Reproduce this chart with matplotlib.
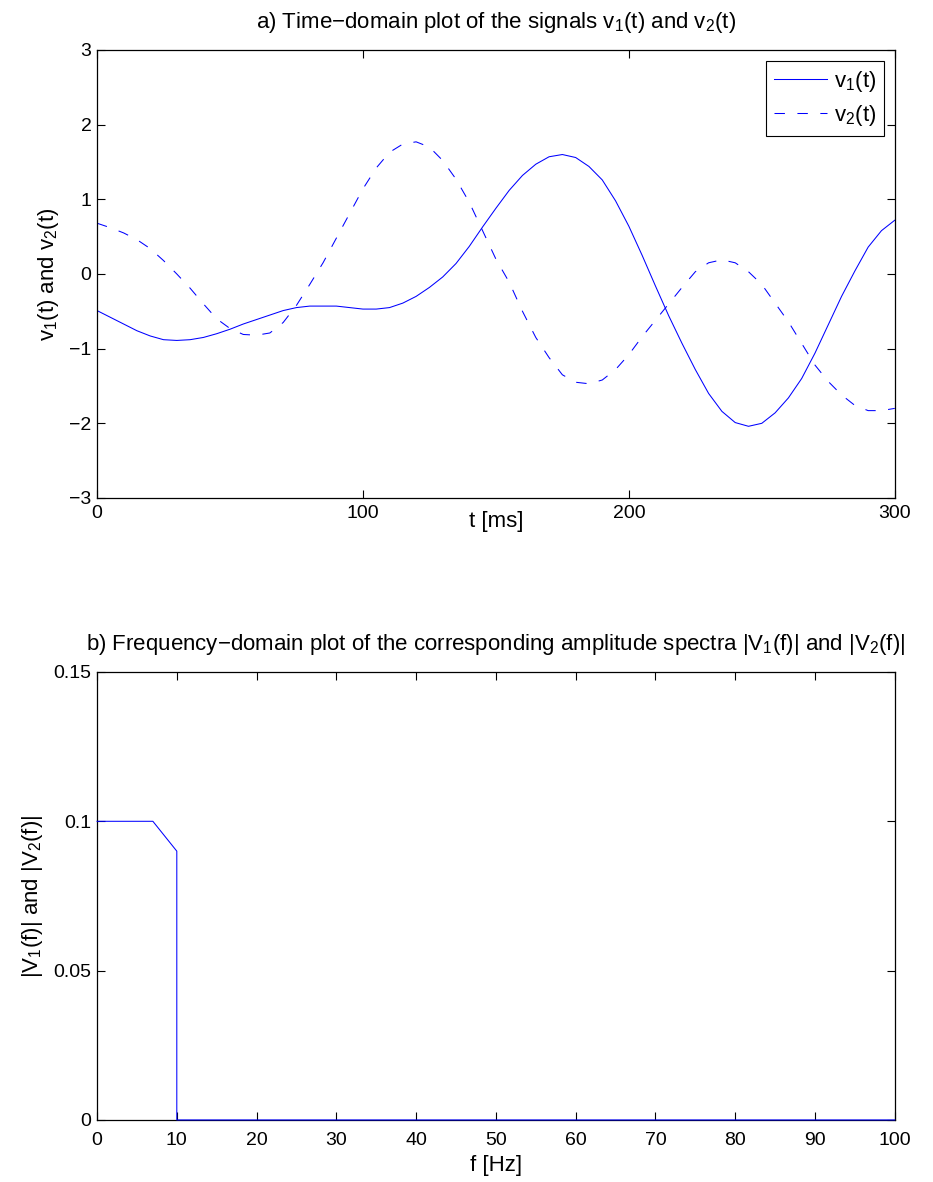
import matplotlib
matplotlib.use("Agg")
import matplotlib.pyplot as plt
from matplotlib.ticker import FormatStrFormatter

#Font setup
plt.rcParams['font.family'] = ['Liberation Sans', 'DejaVu Sans']
plt.rcParams['mathtext.fontset'] = 'custom'
plt.rcParams['mathtext.rm'] = 'Liberation Sans'
plt.rcParams['mathtext.it'] = 'Liberation Sans'
plt.rcParams['mathtext.default'] = 'regular'
plt.rcParams['font.size'] = 14

#Time-domain data (ms)
t = [0, 5, 10, 15, 20, 25, 30, 35, 40, 45, 50, 55, 60, 65, 70, 75, 80, 85, 90, 95,
     100, 105, 110, 115, 120, 125, 130, 135, 140, 145, 150, 155, 160, 165, 170, 175,
     180, 185, 190, 195, 200, 205, 210, 215, 220, 225, 230, 235, 240, 245, 250, 255,
     260, 265, 270, 275, 280, 285, 290, 295, 300]
v1 = [-0.49, -0.58, -0.67, -0.76, -0.83, -0.88, -0.89, -0.88, -0.85, -0.80, -0.74,
      -0.67, -0.61, -0.55, -0.49, -0.45, -0.43, -0.43, -0.43, -0.45, -0.47, -0.47,
      -0.45, -0.39, -0.30, -0.18, -0.04, 0.14, 0.37, 0.63, 0.88, 1.12, 1.32, 1.47,
      1.57, 1.60, 1.56, 1.44, 1.26, 0.98, 0.64, 0.25, -0.16, -0.56, -0.93, -1.28,
      -1.60, -1.84, -1.99, -2.04, -2.00, -1.86, -1.66, -1.40, -1.06, -0.68, -0.30,
      0.04, 0.36, 0.58, 0.72]
v2 = [0.68, 0.62, 0.55, 0.46, 0.34, 0.18, 0.00, -0.19, -0.40, -0.60, -0.73, -0.81,
      -0.82, -0.79, -0.65, -0.42, -0.14, 0.15, 0.48, 0.81, 1.14, 1.42, 1.63, 1.74,
      1.77, 1.70, 1.52, 1.27, 0.96, 0.58, 0.20, -0.11, -0.50, -0.85, -1.12, -1.35,
      -1.45, -1.47, -1.42, -1.28, -1.08, -0.84, -0.62, -0.40, -0.18, 0.03, 0.15,
      0.19, 0.15, 0.03, -0.14, -0.39, -0.64, -0.93, -1.22, -1.44, -1.62, -1.76,
      -1.83, -1.83, -1.80]

#Spectrum data (Hz)
f = [0, 7, 10, 10, 100]
V = [0.1, 0.1, 0.09, 0, 0]

xticks_a = [0, 100, 200, 300]
yticks_a = [-3, -2, -1, 0, 1, 2, 3]
xticks_b = [0, 10, 20, 30, 40, 50, 60, 70, 80, 90, 100]
yticks_b = [0, 0.05, 0.1, 0.15]

lab = 16

#Create figure
fig = plt.figure(figsize=(9.33, 11.82), dpi=100)
ax1 = fig.add_axes([0.104, 0.5787, 0.855, 0.379])
ax2 = fig.add_axes([0.104, 0.0525, 0.855, 0.379])

blue = (0, 0, 1)
ax1.plot(t, v1, color=blue, lw=0.75, label='v$_1$(t)')
ax1.plot(t, v2, color=blue, lw=0.75, dashes=(10, 12), label='v$_2$(t)')
ax1.set_xlim(0, 300)
ax1.set_ylim(-3, 3)
ax1.set_xticks(xticks_a)
ax1.set_yticks(yticks_a)
ax1.set_xlabel('t [ms]', fontsize=lab, labelpad=-8)
ax1.set_ylabel('v$_1$(t) and v$_2$(t)', fontsize=lab, labelpad=6)
ax1.set_title('a) Time\u2212domain plot of the signals v$_1$(t) and v$_2$(t)', fontsize=lab, pad=16)
leg = ax1.legend(loc='upper right', handlelength=2.4, fancybox=False, framealpha=1,
                 edgecolor='k', borderaxespad=0.5, handletextpad=0.3, borderpad=0.35,
                 labelspacing=0.4, fontsize=lab)
leg.get_frame().set_linewidth(0.8)

ax2.plot(f, V, color=blue, lw=0.75, zorder=3, clip_on=False)
ax2.set_xlim(0, 100)
ax2.set_ylim(0, 0.15)
ax2.set_xticks(xticks_b)
ax2.set_yticks(yticks_b)
ax2.yaxis.set_major_formatter(FormatStrFormatter('%g'))
ax2.set_xlabel('f [Hz]', fontsize=lab, labelpad=4)
ax2.set_ylabel('|V$_1$(f)| and |V$_2$(f)|', fontsize=lab, labelpad=6)
ax2.set_title('b) Frequency\u2212domain plot of the corresponding amplitude spectra |V$_1$(f)| and |V$_2$(f)|',
              fontsize=lab, pad=16)

#MATLAB-like ticks on all sides, inward
for ax in (ax1, ax2):
    ax.tick_params(direction='in', top=True, right=True, length=6, width=0.8)
    ax.tick_params(axis='y', pad=4)
    for s in ax.spines.values():
        s.set_linewidth(0.9)
ax1.tick_params(axis='x', pad=5)
ax2.tick_params(axis='x', pad=9)

fig.savefig('out.png', dpi=100)
